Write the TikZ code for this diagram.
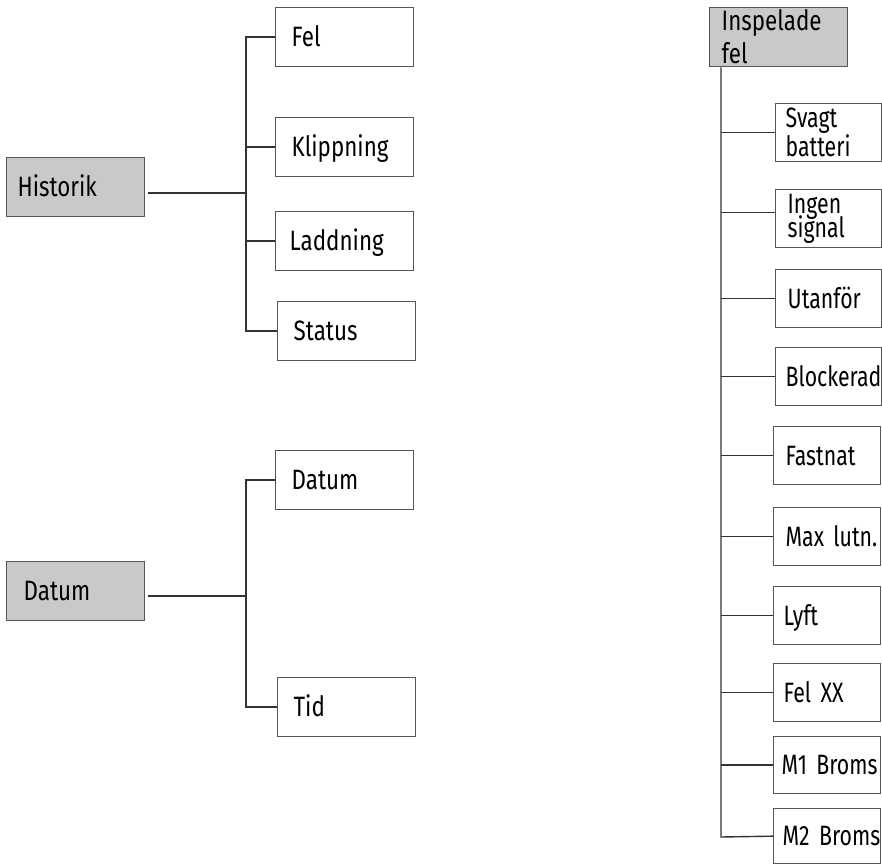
\documentclass[tikz,border=0pt]{standalone}
\usepackage{fontspec}
\setmainfont{Fira Sans}[FakeStretch=0.8]
\newfontfamily\narrowfont{Fira Sans}[FakeStretch=0.76, WordSpace=0.5]
\usepackage{tikz}
\usetikzlibrary{positioning,calc}

\definecolor{boxfill}{HTML}{C8C9CB}
\definecolor{boxline}{HTML}{555555}
\definecolor{wire}{HTML}{333333}

\begin{document}
\begin{tikzpicture}[
            x=1pt, y=-1pt,
            every node/.style={font=\fontsize{28}{28}\selectfont},
            box/.style={draw=boxline, line width=1.3pt, anchor=north west, minimum height=59pt, inner ysep=0pt, align=left},
            oneline/.style={text height=19pt, text depth=0pt},
            root/.style={box, fill=boxfill, inner xsep=11pt, text width=116pt},
            leaf/.style={box, inner xsep=16pt, text width=106pt},
            fault/.style={box, font=\narrowfont\fontsize{28}{28}\selectfont, inner xsep=10pt, text width=86pt, minimum height=58pt},
            wire/.style={draw=wire, line width=1.4pt}
        ]
            \useasboundingbox (0,0) rectangle (882,866);

% historik
            \node[root, oneline] (hist) at (6,157) {Historik};
            \node[leaf, oneline] (fel) at (275,7) {Fel};
            \node[leaf, oneline] (klip) at (275,117) {Klippning};
            \node[leaf, oneline, inner xsep=14pt, text width=110pt] (ladd) at (275,211) {Laddning};
            \node[leaf, oneline] (stat) at (277,301) {Status};

% datum
            \node[root, oneline, inner xsep=17pt, text width=104pt] (dat) at (6,561) {Datum};
            \node[leaf, oneline] (datum) at (275,450) {Datum};
            \node[leaf, oneline] (tid) at (277,677) {Tid};

% inspelade fel
            \node[root, inner xsep=12pt, text width=114pt, minimum height=59pt] (insp) at (709,7) {Inspelade\\[5pt]fel};
            \node[fault] (svagt) at (775,103) {Svagt\\[1pt]batteri};
            \node[fault, inner xsep=12pt, text width=82pt] (ingen) at (775,189) {Ingen\\[-4pt]signal};
            \node[fault, oneline, inner xsep=12pt, text width=82pt] (utan) at (775,269) {Utanför};
            \node[fault, oneline] (block) at (775,347) {Blockerad};
            \node[fault, oneline, inner xsep=12pt, text width=83pt] (fast) at (773,426) {Fastnat};
            \node[fault, oneline, inner xsep=12pt, text width=83pt] (lutn) at (773,507) {\mbox{Max lutn.}};
            \node[fault, oneline, text width=87pt] (lyft) at (773,586) {Lyft};
            \node[fault, oneline, text width=87pt] (felxx) at (773,663) {\mbox{Fel XX}};
            \node[fault, oneline, inner xsep=8pt, text width=91pt, minimum height=57pt] (mone) at (773,736) {\mbox{M1 Broms}};
            \node[fault, oneline, inner xsep=9pt, text width=89pt, minimum height=55pt] (mtwo) at (773,808) {\mbox{M2 Broms}};

% trunk points
            \coordinate (hj) at (246,193);
            \coordinate (dj) at (246,596);
            \coordinate (rj) at (721,837);

% connectors
            \draw[wire, shorten <=3pt] (hj -| hist.east) -- (hj);
            \draw[wire] (fel.west) -| (hj |- stat.west) -- (stat.west);
            \draw[wire] (klip.west) -- (hj |- klip.west);
            \draw[wire] (ladd.west) -- (hj |- ladd.west);

            \draw[wire, shorten <=3pt] (dj -| dat.east) -- (dj);
            \draw[wire] (datum.west) -| (dj |- tid.west) -- (tid.west);

            \draw[wire] (insp.south -| rj) -- (rj) -- (mtwo.west);
            \draw[wire] (rj |- svagt.west) -- (svagt.west);
            \draw[wire] ([yshift=6pt]ingen.west -| rj) -- ([yshift=6pt]ingen.west);
            \draw[wire] (rj |- utan.west) -- (utan.west);
            \draw[wire] (rj |- block.west) -- (block.west);
            \draw[wire] (rj |- fast.west) -- (fast.west);
            \draw[wire] (rj |- lutn.west) -- (lutn.west);
            \draw[wire] (rj |- lyft.west) -- (lyft.west);
            \draw[wire] (rj |- felxx.west) -- (felxx.west);
            \draw[wire] (rj |- mone.west) -- (mone.west);

        \end{tikzpicture}
\end{document}
